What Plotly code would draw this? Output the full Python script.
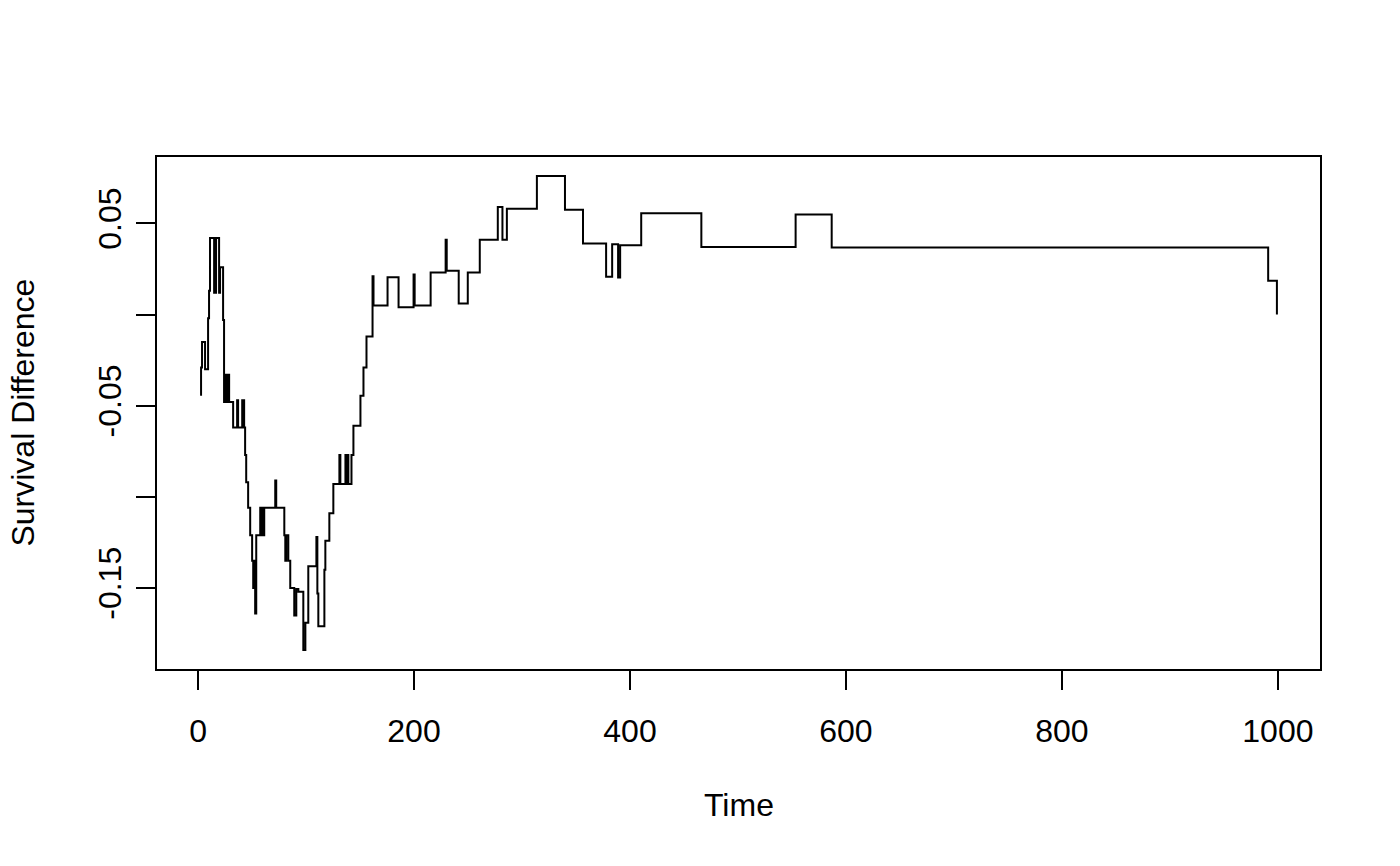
import plotly.graph_objects as go

# Step-function data: time at which each value starts
time = [1.9, 2.8, 3.7, 6.5, 9.3, 10.2, 11.1, 14.9, 16.7, 19.5, 20.4, 23.2, 24.1, 25.1, 26.9,
        27.9, 28.8, 32.5, 36.2, 37.1, 40.9, 42.7, 43.6, 44.6, 46.4, 48.3, 50.1, 51.1, 52.0,
        52.9, 53.9, 57.6, 58.5, 59.4, 60.4, 61.3, 71.5, 72.4, 79.9, 80.8, 81.7, 83.6, 85.4,
        89.1, 91.0, 92.9, 97.5, 99.4, 102.1, 109.6, 110.5, 111.4, 117.0, 117.9, 121.6, 125.3,
        130.9, 131.8, 136.5, 137.4, 138.3, 139.2, 142.1, 143.9, 150.4, 153.2, 156.0, 161.6,
        162.5, 175.5, 185.7, 199.6, 200.6, 215.4, 229.3, 230.3, 241.4, 249.8, 260.9, 277.6,
        281.9, 286.0, 313.8, 339.8, 356.5, 377.9, 383.5, 389.0, 390.9, 410.4, 466.1, 553.4,
        586.8, 991.0, 999.1]
diff = [-0.044, -0.029, -0.015, -0.030, -0.002, 0.013, 0.042, 0.012, 0.042, 0.012, 0.026,
        -0.003, -0.048, -0.033, -0.048, -0.033, -0.048, -0.062, -0.047, -0.062, -0.047, -0.062,
        -0.077, -0.092, -0.106, -0.121, -0.135, -0.150, -0.135, -0.164, -0.121, -0.106, -0.121,
        -0.106, -0.121, -0.106, -0.091, -0.106, -0.121, -0.135, -0.121, -0.135, -0.150, -0.165,
        -0.1505, -0.152, -0.184, -0.169, -0.138, -0.122, -0.153, -0.171, -0.140, -0.124, -0.109,
        -0.093, -0.077, -0.093, -0.077, -0.093, -0.077, -0.093, -0.077, -0.061, -0.0445, -0.029,
        -0.012, 0.021, 0.005, 0.0205, 0.004, 0.022, 0.005, 0.023, 0.041, 0.024, 0.006, 0.023,
        0.041, 0.059, 0.041, 0.058, 0.076, 0.0575, 0.039, 0.0207, 0.0385, 0.0203, 0.038, 0.0556,
        0.037, 0.0549, 0.0367, 0.0185, 0.0]

x_ticks = [0, 200, 400, 600, 800, 1000]
y_ticks = [-0.15, -0.10, -0.05, 0.0, 0.05]
y_tick_text = ["-0.15", "", "-0.05", "", "0.05"]

FONT = "Liberation Sans, Arial, Helvetica, sans-serif"

fig = go.Figure(go.Scatter(x=time, y=diff, mode="lines",
                           line=dict(shape="hv", color="black", width=2),
                           showlegend=False, hoverinfo="x+y"))

fig.update_layout(
    width=1384, height=850,
    margin=dict(l=149, r=72, t=149, b=189),
    paper_bgcolor="white", plot_bgcolor="white",
    font=dict(family=FONT, size=32, color="black"),
    xaxis=dict(range=[-38, 1039], tickvals=x_ticks, ticktext=[str(v) for v in x_ticks],
               showgrid=False, zeroline=False, showline=True, mirror=True,
               linecolor="black", linewidth=2, ticks="outside", ticklen=19,
               tickwidth=2, tickcolor="black", ticklabelstandoff=14),
    yaxis=dict(range=[-0.1944, 0.0864], tickvals=y_ticks, ticktext=y_tick_text,
               showgrid=False, zeroline=False, showline=True, mirror=True,
               linecolor="black", linewidth=2, ticks="outside", ticklen=19,
               tickwidth=2, tickcolor="black", tickangle=-90, ticklabelstandoff=2),
    annotations=[
        dict(text="Time", xref="paper", yref="paper", x=0.5, y=-0.265,
             showarrow=False, xanchor="center", yanchor="middle",
             font=dict(family=FONT, size=32, color="black")),
        dict(text="Survival Difference", xref="paper", yref="paper", x=-0.1156, y=0.5,
             showarrow=False, xanchor="center", yanchor="middle", textangle=-90,
             font=dict(family=FONT, size=32, color="black")),
    ],
)

fig.write_html("out.html")
